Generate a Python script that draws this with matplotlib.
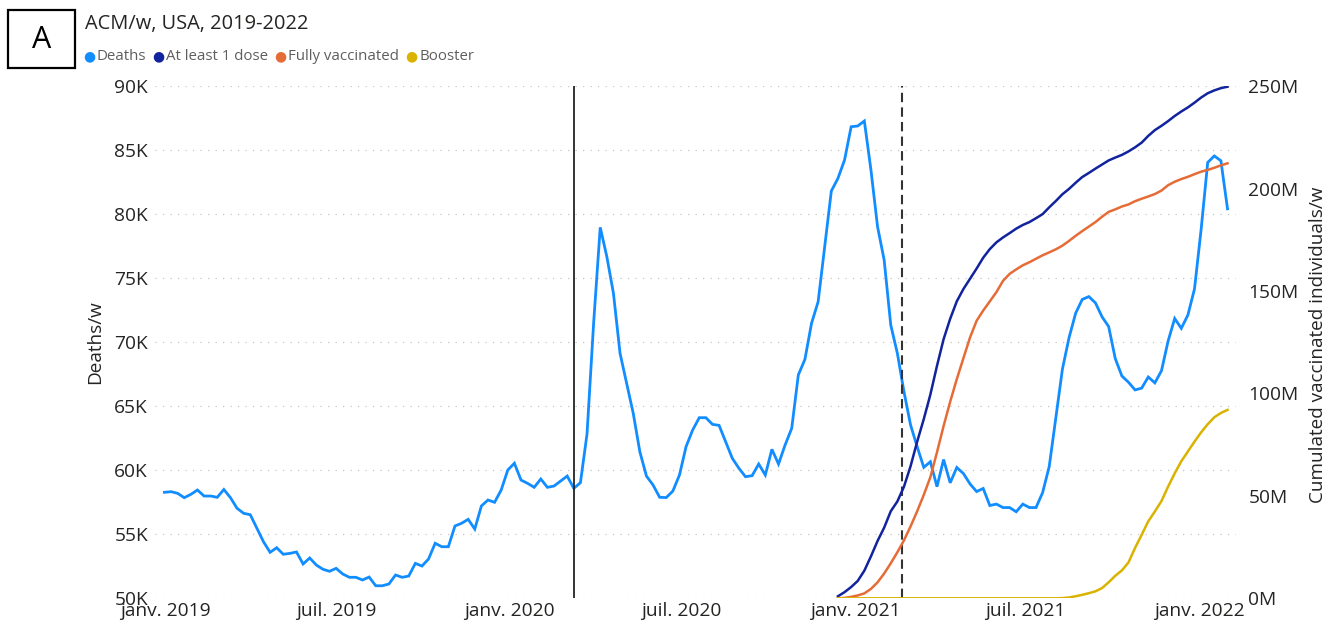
import datetime as dt

import matplotlib
matplotlib.use("Agg")
import matplotlib.pyplot as plt
import matplotlib.dates as mdates
from matplotlib.patches import Rectangle

FONT = "Open Sans"
plt.rcParams["font.family"] = [FONT, "DejaVu Sans"]

TXT = "#252423"
LEG_TXT = "#605E5C"
GRID = "#C8C6C4"
C_DEATHS = "#118DFF"
C_DOSE1 = "#12239E"
C_FULL = "#E66C37"
C_BOOST = "#D9B300"

# weekly all-cause deaths (thousands), weeks from 2018-12-31
DEATHS_START = dt.date(2018, 12, 31)
deaths_k = [
    58.28, 58.33, 58.20, 57.86, 58.12, 58.46, 57.99, 57.99, 57.89, 58.50,
    57.86, 57.03, 56.64, 56.53, 55.47, 54.42, 53.59, 53.95, 53.44, 53.51,
    53.62, 52.68, 53.15, 52.60, 52.27, 52.11, 52.34, 51.90, 51.64, 51.64,
    51.43, 51.66, 50.98, 50.98, 51.12, 51.82, 51.64, 51.74, 52.73, 52.52,
    53.07, 54.30, 54.03, 54.03, 55.65, 55.86, 56.17, 55.41, 57.21, 57.68,
    57.50, 58.46, 60.02, 60.55, 59.24, 58.98, 58.67, 59.32, 58.67, 58.77,
    59.16, 59.55, 58.59, 59.03, 62.84, 71.50, 78.98, 76.69, 73.83, 69.14,
    66.80, 64.45, 61.45, 59.55, 58.85, 57.89, 57.87, 58.38, 59.63, 61.85,
    63.15, 64.11, 64.11, 63.59, 63.51, 62.23, 60.94, 60.16, 59.50, 59.58,
    60.49, 59.63, 61.64, 60.49, 61.98, 63.28, 67.45, 68.67, 71.48, 73.17,
    77.47, 81.82, 82.81, 84.24, 86.84, 86.90, 87.29, 83.46, 79.03, 76.43,
    71.35, 69.14, 66.14, 63.54, 61.84, 60.23, 60.67, 58.72, 60.84, 59.02,
    60.22, 59.75, 58.94, 58.34, 58.58, 57.25, 57.36, 57.09, 57.09, 56.76,
    57.36, 57.09, 57.09, 58.26, 60.30, 64.11, 67.91, 70.36, 72.27, 73.35,
    73.57, 73.08, 71.99, 71.23, 68.73, 67.37, 66.88, 66.28, 66.42, 67.29,
    66.83, 67.78, 70.09, 71.86, 71.09, 72.13, 74.17, 78.80, 84.05, 84.56,
    84.18, 80.43,
]

# cumulated vaccinated individuals (millions), weekly from 2020-12-14
VAX_START = dt.date(2020, 12, 14)
dose1_m = [
    1.0, 3.0, 5.5, 8.5, 13.5, 20.5, 28.0, 34.5, 42.5, 47.3,
    54.5, 64.5, 76.5, 87.5, 99.5, 113.5, 126.5, 136.5, 145.0, 151.0,
    156.0, 161.0, 166.3, 170.5, 173.8, 176.2, 178.3, 180.5, 182.3, 183.7,
    185.6, 187.6, 190.9, 194.0, 197.3, 199.9, 202.9, 205.7, 207.7, 209.8,
    211.8, 213.8, 215.2, 216.5, 218.2, 220.2, 222.5, 225.8, 228.6, 230.7,
    233.0, 235.5, 237.7, 239.7, 242.0, 244.5, 246.6, 248.0, 249.1, 249.8,
]
full_m = [
    0.0, 0.2, 0.7, 1.4, 2.4, 4.6, 7.8, 12.1, 17.1, 22.5,
    28.3, 35.1, 42.5, 50.5, 59.2, 71.3, 84.1, 96.0, 107.0, 117.2,
    127.3, 135.5, 140.5, 145.0, 149.5, 155.0, 158.4, 160.6, 162.6, 164.1,
    165.8, 167.5, 168.9, 170.4, 172.2, 174.5, 177.0, 179.3, 181.5, 183.7,
    186.3, 188.7, 189.9, 191.3, 192.3, 193.9, 195.1, 196.2, 197.4, 199.1,
    201.7, 203.4, 204.7, 205.8, 207.1, 208.3, 209.2, 210.2, 211.4, 212.4,
]
booster_m = [
    0.0, 0.0, 0.0, 0.0, 0.0, 0.0, 0.0, 0.0, 0.0, 0.0,
    0.0, 0.0, 0.0, 0.0, 0.0, 0.0, 0.0, 0.0, 0.0, 0.0,
    0.0, 0.0, 0.0, 0.0, 0.0, 0.0, 0.0, 0.0, 0.0, 0.0,
    0.0, 0.0, 0.0, 0.0, 0.1, 0.4, 1.0, 1.7, 2.5, 3.4,
    5.0, 7.8, 11.0, 13.6, 17.5, 24.6, 31.0, 37.6, 42.4, 47.5,
    54.5, 61.0, 66.9, 71.7, 76.5, 81.0, 85.0, 88.4, 90.5, 92.0,
]

X_TICKS = ["2019-01-01", "2019-07-01", "2020-01-01", "2020-07-01",
           "2021-01-01", "2021-07-01", "2022-01-01"]
X_LABELS = ["janv. 2019", "juil. 2019", "janv. 2020", "juil. 2020",
            "janv. 2021", "juil. 2021", "janv. 2022"]
Y_LEFT = [50, 55, 60, 65, 70, 75, 80, 85, 90]
Y_RIGHT = [0, 50, 100, 150, 200, 250]
LOCKDOWN = dt.date(2020, 3, 9)
VAX_MARK = dt.date(2021, 2, 20)

LEGEND = [("Deaths", C_DEATHS), ("At least 1 dose", C_DOSE1),
          ("Fully vaccinated", C_FULL), ("Booster", C_BOOST)]

d_dates = [DEATHS_START + dt.timedelta(weeks=i) for i in range(len(deaths_k))]
v_dates = [VAX_START + dt.timedelta(weeks=i) for i in range(len(dose1_m))]

W, H = 1334, 626
fig = plt.figure(figsize=(W / 100, H / 100), dpi=100, facecolor="white")
ax = fig.add_axes([155 / W, 1 - 598.3 / H, (1236 - 155) / W, (598.3 - 86.3) / H])
ax2 = ax.twinx()

ax.set_xlim(dt.date(2018, 12, 21), dt.date(2022, 2, 9))
ax.set_ylim(50, 90)
ax2.set_ylim(0, 250)

ax.yaxis.grid(True, linestyle=(0, (1, 5)), color=GRID, lw=0.9)
ax.set_axisbelow(True)

ax.plot(d_dates, deaths_k, color=C_DEATHS, lw=2.0, solid_joinstyle="miter")
ax.axvline(LOCKDOWN, color=TXT, lw=1.3)
ax.axvline(VAX_MARK, color="#333333", lw=1.5, linestyle=(0, (4.5, 2.5)))

ax2.plot(v_dates, dose1_m, color=C_DOSE1, lw=1.8)
ax2.plot(v_dates, full_m, color=C_FULL, lw=1.8)
ax2.plot(v_dates, booster_m, color=C_BOOST, lw=1.8)

ax.set_xticks([mdates.datestr2num(s) for s in X_TICKS])
ax.set_xticklabels(X_LABELS)
ax.set_yticks(Y_LEFT)
ax.set_yticklabels([f"{v}K" for v in Y_LEFT])
ax2.set_yticks(Y_RIGHT)
ax2.set_yticklabels([f"{v}M" for v in Y_RIGHT])

for a in (ax, ax2):
    for s in a.spines.values():
        s.set_visible(False)
ax.tick_params(axis="both", length=0, labelsize=13.8, labelcolor=TXT)
ax.tick_params(axis="x", pad=2.5)
ax.tick_params(axis="y", pad=5)
ax2.tick_params(axis="y", length=0, labelsize=13.8, labelcolor=TXT, pad=9)

fig.text(95 / W, 1 - 342.5 / H, "Deaths/w", rotation=90, ha="center",
         va="center", fontsize=13.6, color=TXT)
fig.text(1318 / W, 1 - 344.5 / H, "Cumulated vaccinated individuals/w",
         rotation=90, ha="center", va="center", fontsize=13.6, color=TXT)

# panel letter box
fig.patches.append(Rectangle((8 / W, 1 - 68 / H), 67 / W, 58 / H,
                             transform=fig.transFigure, fill=False,
                             edgecolor="black", lw=1.6))
fig.text(41.5 / W, 1 - 40 / H, "A", ha="center", va="center", fontsize=22,
         color="black")

fig.text(85 / W, 1 - 24 / H, "ACM/w, USA, 2019-2022", ha="left",
         va="center", fontsize=14.4, color=TXT)

# legend: dot + label, laid out left to right
renderer = fig.canvas.get_renderer()
x = 89
for label, col in LEGEND:
    fig.text(x / W, 1 - 57 / H, "\u25CF", ha="center", va="center",
             fontsize=10, color=col)
    t = fig.text((x + 8) / W, 1 - 57 / H, label, ha="left", va="center",
                 fontsize=10.8, color=LEG_TXT)
    x = t.get_window_extent(renderer).x1 + 12

fig.savefig("out.png", dpi=100, facecolor="white")
